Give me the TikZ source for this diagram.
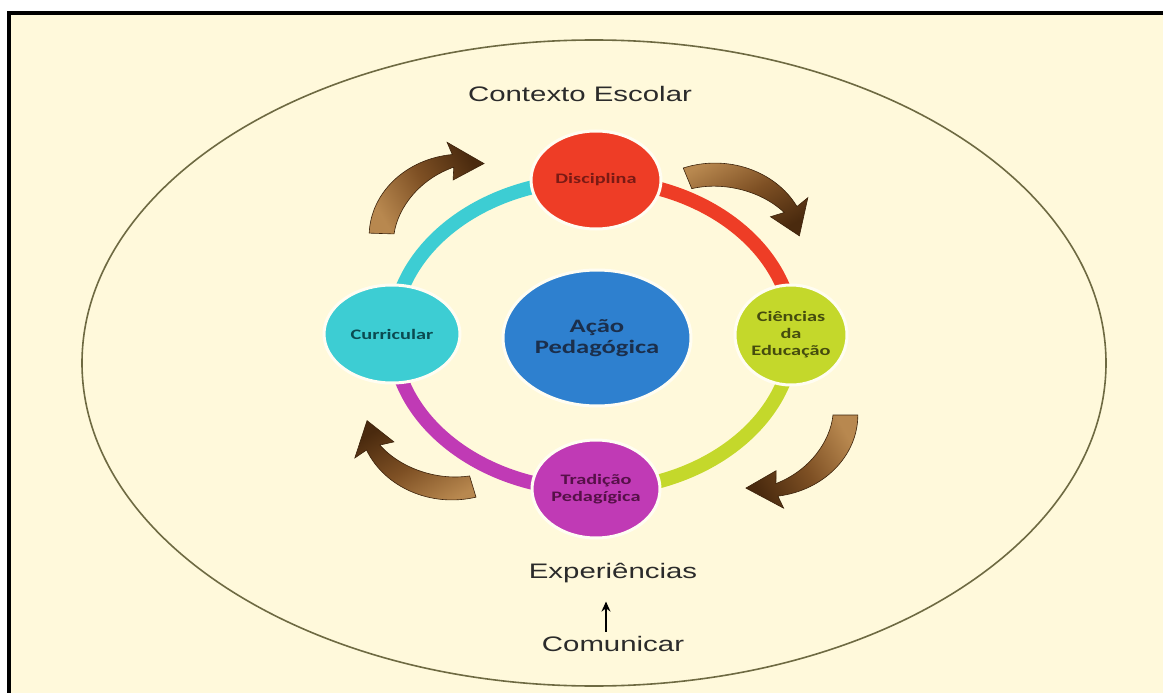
\documentclass[tikz,border=0pt]{standalone}
\usepackage{fontspec}
\setmainfont{Liberation Sans}
\newfontfamily\arialx[FakeStretch=1.4]{Liberation Sans}
\newfontfamily\calx[FakeStretch=1.4]{Carlito}
\usetikzlibrary{arrows.meta,shapes.geometric}
\definecolor{cream}{HTML}{FFF9DB}
\definecolor{halo}{HTML}{FFFDF2}
\definecolor{ellc}{HTML}{6E6A42}
\definecolor{redc}{HTML}{EE3D26}
\definecolor{cyanc}{HTML}{3DCDD3}
\definecolor{limec}{HTML}{C4D82B}
\definecolor{magc}{HTML}{C03AB5}
\definecolor{bluec}{HTML}{2E80CF}
\definecolor{redT}{HTML}{7A1A14}
\definecolor{cyanT}{HTML}{0B4A50}
\definecolor{limeT}{HTML}{454C0E}
\definecolor{magT}{HTML}{561048}
\definecolor{blueT}{HTML}{1B2F4C}
\definecolor{txt}{HTML}{2B2B2B}
\definecolor{arrdark}{HTML}{4A2A0E}
\definecolor{arrmid}{HTML}{7E5024}
\definecolor{arrlight}{HTML}{B8884F}
\tikzset{
  circ/.style={ellipse, inner sep=0pt, draw=halo, line width=3pt, align=center,
    font=\calx\bfseries\fontsize{14.5}{17}\selectfont},
  ringseg/.style={line width=14pt},
  outertext/.style={anchor=base, inner sep=0pt, text=txt, font=\arialx\fontsize{21}{25}\selectfont},
  arrowfill/.style={draw=arrdark!80!black, line width=0.6pt, top color=arrlight, bottom color=arrdark, middle color=arrmid}
}
\newcommand\curvarr[6]{%
  \begin{scope}[shift={(#1,#2)}, xscale=#4/65, yscale=#5/65]
    \path[arrowfill, shading angle=#6] (#3:71) arc[start angle=#3, end angle={#3+82}, radius=71]
      -- ({#3+80}:82) -- ({#3+103}:65) -- ({#3+80}:49) -- ({#3+82}:60)
      .. controls ({#3+55}:59) and ({#3+25}:55) .. (#3:52) -- cycle;
  \end{scope}}
\begin{document}
\begin{tikzpicture}[x=1pt,y=-1pt]
\useasboundingbox (0,0) rectangle (1163,693);
\fill[white] (0,0) rectangle (1163,693);
\fill[cream] (9,13) rectangle (1163,693);
\draw[line width=4pt] (9,693) -- (9,13) -- (1163,13);
% outer ellipse
\draw[ellc, line width=1.6pt] (594,363) ellipse [x radius=512, y radius=323];
% ring
\draw[ringseg, cyanc] (593,335) ++(180:200 and 155) arc[start angle=180, end angle=270, x radius=200, y radius=155];
\draw[ringseg, redc]  (593,335) ++(270:200 and 155) arc[start angle=270, end angle=360, x radius=200, y radius=155];
\draw[ringseg, limec] (593,335) ++(0:200 and 155) arc[start angle=0, end angle=90, x radius=200, y radius=155];
\draw[ringseg, magc]  (593,335) ++(90:200 and 155) arc[start angle=90, end angle=180, x radius=200, y radius=155];
% curved arrows
\curvarr{462}{236}{182}{85}{75}{120}
\curvarr{715}{245}{250}{85}{75}{30}
\curvarr{765}{415}{0}{85}{75}{-60}
\curvarr{452}{418}{75}{85}{75}{-150}
% nodes
\node[circ, fill=redc, text=redT, minimum width=130pt, minimum height=98pt] (dis) at (596,180) {Disciplina};
\node[circ, fill=cyanc, text=cyanT, minimum width=136pt, minimum height=98pt] (cur) at (392,334) {Curricular};
\node[circ, fill=limec, text=limeT, minimum width=112pt, minimum height=100pt] (cie) at (791,335) {Ciências\\da\\Educação};
\node[circ, fill=magc, text=magT, minimum width=128pt, minimum height=98pt] (tra) at (596,489) {Tradição\\Pedagígica};
\node[circ, fill=bluec, text=blueT, minimum width=188pt, minimum height=136pt,
  font=\calx\bfseries\fontsize{19}{21}\selectfont] (aca) at (597,338) {Ação\\Pedagógica};
% outer texts
\node[outertext] (ctx) at (580,102) {Contexto Escolar};
\node[outertext] (exp) at (613,578) {Experiências};
\node[outertext] (com) at (613,651) {Comunicar};
\draw[-{Stealth[length=10pt,width=9pt]}, line width=1.8pt, shorten <=4pt, shorten >=19pt]
  ([xshift=-7pt]com.north) -- ([xshift=-7pt]exp.south);
\end{tikzpicture}
\end{document}
